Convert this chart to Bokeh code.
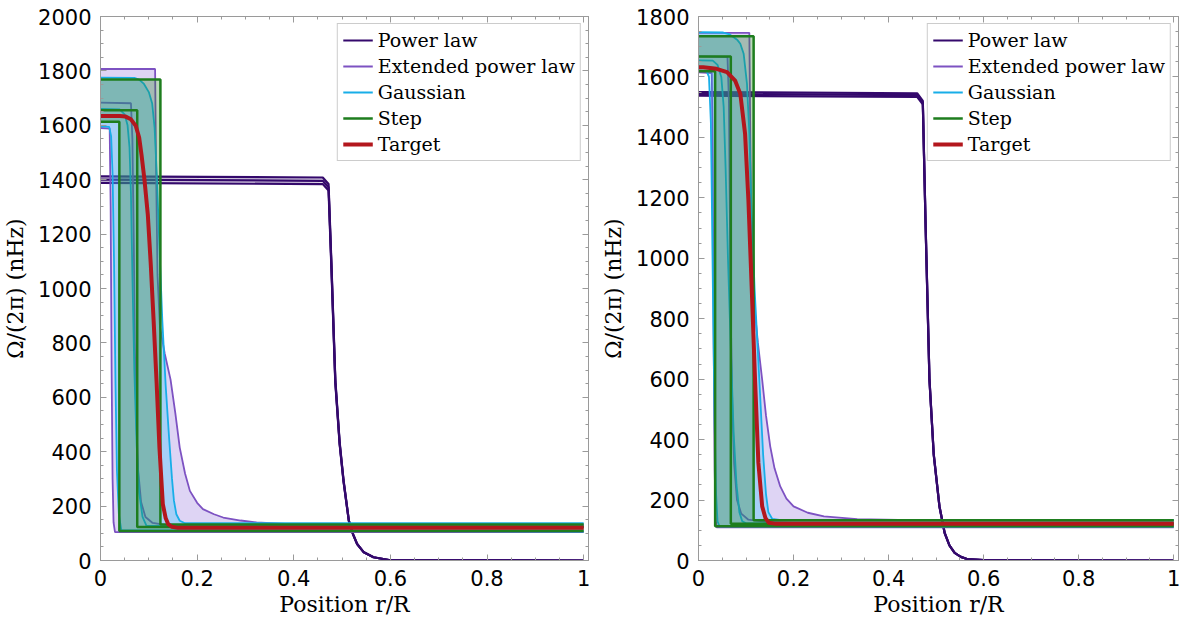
from bokeh.plotting import figure
from bokeh.layouts import row
from bokeh.models import (Range1d, LinearAxis, SingleIntervalTicker, Legend,
                          LegendItem, CustomJSTickFormatter)
from bokeh.embed import file_html
from bokeh.resources import INLINE

# ---------------- left panel ----------------
# power law: three lines on the same radii
pl_r_L = [0, 0.46, 0.472, 0.478, 0.486, 0.495, 0.503, 0.514, 0.523, 0.531, 0.545, 0.565, 0.6, 1.0]
pl_lo_L = [1388, 1384, 1360, 1070, 653, 426, 290, 145, 94, 60, 30, 12, 1, 0]
pl_mid_L = [1400, 1396, 1372, 1080, 659, 430, 293, 146, 95, 61, 30, 12, 1, 0]
pl_hi_L = [1412, 1408, 1384, 1090, 665, 434, 296, 147, 96, 62, 30, 12, 1, 0]

# extended power law
epl_lo_r_L = [0, 0.019, 0.021, 0.023, 0.025, 0.027, 0.03, 1.0]
epl_lo_L = [1590, 1588, 1300, 700, 300, 140, 104, 104]
epl_mid_r_L = [0, 0.063, 0.066, 0.069, 0.071, 0.074, 0.078, 0.084, 0.093, 0.108, 0.14, 0.2, 1.0]
epl_mid_L = [1683, 1681, 1550, 1150, 800, 520, 330, 215, 160, 138, 129, 125, 125]
epl_hi_r_L = [0, 0.113, 0.115, 0.118, 0.123, 0.133, 0.145, 0.155, 0.164, 0.175, 0.185, 0.2,
              0.212, 0.235, 0.254, 0.29, 0.323, 0.392, 0.5, 1.0]
epl_hi_L = [1807, 1807, 1450, 1050, 860, 760, 665, 540, 415, 320, 256, 212,
            189, 170, 158, 147, 140, 134, 132, 132]

# gaussian
gau_lo_r_L = [0, 0.018, 0.022, 0.025, 0.028, 0.031, 0.034, 0.038, 0.043, 1.0]
gau_lo_L = [1596, 1594, 1560, 1420, 1100, 650, 330, 170, 112, 106]
gau_mid_r_L = [0, 0.04, 0.05, 0.056, 0.06, 0.063, 0.066, 0.07, 0.075, 0.08, 0.087, 0.095, 1.0]
gau_mid_L = [1660, 1658, 1640, 1600, 1520, 1350, 1050, 700, 420, 250, 160, 128, 123]
gau_hi_r_L = [0, 0.07, 0.08, 0.09, 0.1, 0.107, 0.112, 0.117, 0.122, 0.128, 0.135, 0.142,
              0.148, 0.152, 0.157, 0.164, 0.175, 1.0]
gau_hi_L = [1775, 1774, 1768, 1752, 1722, 1680, 1590, 1400, 1150, 880, 640, 450,
            300, 220, 170, 146, 137, 137]

# step
stp_lo_r_L = [0, 0.039, 0.039, 1.0]
stp_lo_L = [1613, 1613, 108, 108]
stp_mid_r_L = [0, 0.076, 0.076, 1.0]
stp_mid_L = [1655, 1655, 123, 123]
stp_hi_r_L = [0, 0.124, 0.124, 1.0]
stp_hi_L = [1768, 1768, 132, 132]

# target
tgt_r_L = [0, 0.04, 0.052, 0.063, 0.073, 0.08, 0.085, 0.091, 0.098, 0.104, 0.11, 0.116,
           0.122, 0.129, 0.135, 0.14, 0.148, 0.16, 1.0]
tgt_L = [1634, 1634, 1632, 1622, 1598, 1555, 1490, 1400, 1270, 1090, 880, 659,
         415, 207, 155, 134, 124, 120, 120]

# ---------------- right panel ----------------
pl_r_R = [0, 0.46, 0.472, 0.478, 0.486, 0.495, 0.507, 0.518, 0.528, 0.539, 0.552, 0.565, 0.6, 1.0]
pl_lo_R = [1538, 1534, 1509, 1095, 596, 349, 178, 90, 50, 25, 12, 5, 1, 0]
pl_mid_R = [1544, 1540, 1515, 1100, 598, 350, 179, 91, 50, 25, 12, 5, 1, 0]
pl_hi_R = [1550, 1546, 1521, 1105, 600, 352, 180, 92, 50, 25, 12, 5, 1, 0]

epl_lo_r_R = [0, 0.028, 0.03, 0.032, 0.034, 0.036, 0.038, 1.0]
epl_lo_R = [1615, 1613, 1300, 700, 300, 140, 110, 110]
epl_mid_r_R = [0, 0.061, 0.064, 0.066, 0.068, 0.071, 0.075, 0.081, 0.09, 0.105, 0.14, 0.2, 1.0]
epl_mid_R = [1668, 1666, 1520, 1150, 800, 520, 320, 200, 155, 135, 128, 125, 125]
epl_hi_r_R = [0, 0.107, 0.109, 0.112, 0.117, 0.125, 0.134, 0.142, 0.151, 0.16, 0.172, 0.185,
              0.2, 0.23, 0.264, 0.334, 0.42, 1.0]
epl_hi_R = [1746, 1746, 1400, 1000, 850, 720, 598, 480, 377, 305, 245, 205,
            179, 158, 146, 137, 134, 133]

gau_lo_r_R = [0, 0.017, 0.022, 0.026, 0.028, 0.031, 0.034, 0.037, 0.04, 0.044, 1.0]
gau_lo_R = [1621, 1619, 1600, 1450, 1200, 800, 450, 220, 130, 113, 112]
gau_mid_r_R = [0, 0.03, 0.04, 0.048, 0.053, 0.057, 0.062, 0.068, 0.074, 0.08, 0.086, 0.092, 0.1, 1.0]
gau_mid_R = [1655, 1654, 1640, 1600, 1500, 1300, 1000, 700, 420, 250, 160, 130, 123, 123]
gau_hi_r_R = [0, 0.052, 0.064, 0.074, 0.082, 0.088, 0.095, 0.102, 0.107, 0.111, 0.118, 0.128,
              0.136, 0.142, 0.147, 0.155, 0.17, 1.0]
gau_hi_R = [1748, 1747, 1742, 1731, 1722, 1710, 1677, 1578, 1412, 1192, 900, 598,
            350, 220, 160, 138, 134, 134]

stp_lo_r_R = [0, 0.035, 0.035, 1.0]
stp_lo_R = [1619, 1619, 113, 113]
stp_mid_r_R = [0, 0.068, 0.068, 1.0]
stp_mid_R = [1668, 1668, 122, 122]
stp_hi_r_R = [0, 0.116, 0.116, 1.0]
stp_hi_R = [1735, 1735, 133, 133]

tgt_r_R = [0, 0.01, 0.038, 0.06, 0.077, 0.088, 0.098, 0.105, 0.112, 0.119, 0.126, 0.134,
           0.141, 0.148, 0.16, 1.0]
tgt_R = [1632, 1632, 1627, 1616, 1588, 1544, 1412, 1192, 900, 598, 323, 179,
         140, 125, 122, 122]

labels = ["Power law", "Extended power law", "Gaussian", "Step", "Target"]

PL_C = "#34096c"
EPL_C = "#7d52c2"
GAU_C = "#18aee8"
STP_C = "#1e7d1e"
TGT_C = "#b3171d"
AX_C = "#9a9a9a"
SERIF = "DejaVu Serif"
SANS = "DejaVu Sans"


def band(p, r_lo, lo, r_hi, hi, color, alpha):
    xs = list(r_hi) + list(r_lo)[::-1]
    ys = list(hi) + list(lo)[::-1]
    p.patch(xs, ys, fill_color=color, fill_alpha=alpha, line_color=None)


def make_panel(d, ymax, width, height, bl, br, bt, bb):
    p = figure(width=width, height=height, output_backend="svg", toolbar_location=None,
               x_range=Range1d(0, 1.01), y_range=Range1d(0, ymax),
               min_border_left=bl, min_border_right=br, min_border_top=bt,
               min_border_bottom=bb, x_axis_type=None, y_axis_type=None)
    p.xgrid.visible = False
    p.ygrid.visible = False
    p.outline_line_color = AX_C
    p.background_fill_color = "white"
    p.border_fill_color = "white"

    fmt = CustomJSTickFormatter(code="return Number(tick.toFixed(2)).toString();")
    blank = CustomJSTickFormatter(code="return '';")
    for side in ("below", "left", "above", "right"):
        if side in ("below", "above"):
            tk = SingleIntervalTicker(interval=0.2, num_minor_ticks=4)
        else:
            tk = SingleIntervalTicker(interval=200, num_minor_ticks=4)
        ax = LinearAxis(ticker=tk)
        ax.axis_line_color = AX_C
        ax.major_tick_line_color = AX_C
        ax.minor_tick_line_color = AX_C
        ax.major_tick_in = 6
        ax.major_tick_out = 0
        ax.minor_tick_in = 3
        ax.minor_tick_out = 0
        if side in ("below", "left"):
            ax.formatter = fmt
            ax.major_label_text_font = SANS
            ax.major_label_text_font_size = "21px"
            ax.major_label_text_color = "black"
            ax.major_label_standoff = 9
            ax.axis_label_text_font = SERIF
            ax.axis_label_text_font_style = "normal"
            ax.axis_label_text_font_size = "22px"
            ax.axis_label_text_color = "black"
            if side == "below":
                ax.axis_label = "Position r/R"
                ax.axis_label_standoff = 3
            else:
                ax.axis_label = "\u03a9/(2\u03c0) (nHz)"
                ax.axis_label_standoff = 7
        else:
            ax.formatter = blank
            ax.major_label_standoff = 0
        p.add_layout(ax, side)

    # power law
    band(p, d["pl_r"], d["pl_lo"], d["pl_r"], d["pl_hi"], PL_C, 0.15)
    p.line(d["pl_r"], d["pl_lo"], color=PL_C, line_width=2.2)
    p.line(d["pl_r"], d["pl_hi"], color=PL_C, line_width=2.2)
    r_pl = p.line(d["pl_r"], d["pl_mid"], color=PL_C, line_width=2.2)

    # extended power law
    band(p, d["epl_lo_r"], d["epl_lo"], d["epl_hi_r"], d["epl_hi"], "#9370db", 0.3)
    p.line(d["epl_lo_r"], d["epl_lo"], color=EPL_C, line_width=1.8)
    p.line(d["epl_hi_r"], d["epl_hi"], color=EPL_C, line_width=1.8)
    r_epl = p.line(d["epl_mid_r"], d["epl_mid"], color=EPL_C, line_width=1.8)

    # gaussian
    band(p, d["gau_lo_r"], d["gau_lo"], d["gau_hi_r"], d["gau_hi"], "#00bfff", 0.25)
    p.line(d["gau_lo_r"], d["gau_lo"], color=GAU_C, line_width=1.8)
    p.line(d["gau_hi_r"], d["gau_hi"], color=GAU_C, line_width=1.8)
    r_gau = p.line(d["gau_mid_r"], d["gau_mid"], color=GAU_C, line_width=1.8)

    # step
    band(p, d["stp_lo_r"], d["stp_lo"], d["stp_hi_r"], d["stp_hi"], "#21821e", 0.3)
    p.line(d["stp_lo_r"], d["stp_lo"], color=STP_C, line_width=2.5)
    p.line(d["stp_hi_r"], d["stp_hi"], color=STP_C, line_width=2.5)
    r_stp = p.line(d["stp_mid_r"], d["stp_mid"], color=STP_C, line_width=2.5)

    # target
    r_tgt = p.line(d["tgt_r"], d["tgt"], color=TGT_C, line_width=4, line_join="round")

    items = [LegendItem(label=lab, renderers=[rr])
             for lab, rr in zip(labels, [r_pl, r_epl, r_gau, r_stp, r_tgt])]
    leg = Legend(items=items, location="top_right")
    leg.label_text_font = SERIF
    leg.label_text_font_size = "19px"
    leg.label_text_color = "black"
    leg.border_line_color = AX_C
    leg.border_line_width = 1
    leg.background_fill_alpha = 1
    leg.margin = 7
    leg.padding = 5
    leg.spacing = 4
    leg.glyph_width = 30
    leg.glyph_height = 22
    leg.label_standoff = 5
    leg.label_height = 22
    p.add_layout(leg)
    return p


left = dict(pl_r=pl_r_L, pl_lo=pl_lo_L, pl_mid=pl_mid_L, pl_hi=pl_hi_L,
            epl_lo_r=epl_lo_r_L, epl_lo=epl_lo_L, epl_mid_r=epl_mid_r_L, epl_mid=epl_mid_L,
            epl_hi_r=epl_hi_r_L, epl_hi=epl_hi_L,
            gau_lo_r=gau_lo_r_L, gau_lo=gau_lo_L, gau_mid_r=gau_mid_r_L, gau_mid=gau_mid_L,
            gau_hi_r=gau_hi_r_L, gau_hi=gau_hi_L,
            stp_lo_r=stp_lo_r_L, stp_lo=stp_lo_L, stp_mid_r=stp_mid_r_L, stp_mid=stp_mid_L,
            stp_hi_r=stp_hi_r_L, stp_hi=stp_hi_L, tgt_r=tgt_r_L, tgt=tgt_L)
right = dict(pl_r=pl_r_R, pl_lo=pl_lo_R, pl_mid=pl_mid_R, pl_hi=pl_hi_R,
             epl_lo_r=epl_lo_r_R, epl_lo=epl_lo_R, epl_mid_r=epl_mid_r_R, epl_mid=epl_mid_R,
             epl_hi_r=epl_hi_r_R, epl_hi=epl_hi_R,
             gau_lo_r=gau_lo_r_R, gau_lo=gau_lo_R, gau_mid_r=gau_mid_r_R, gau_mid=gau_mid_R,
             gau_hi_r=gau_hi_r_R, gau_hi=gau_hi_R,
             stp_lo_r=stp_lo_r_R, stp_lo=stp_lo_R, stp_mid_r=stp_mid_r_R, stp_mid=stp_mid_R,
             stp_hi_r=stp_hi_r_R, stp_hi=stp_hi_R, tgt_r=tgt_r_R, tgt=tgt_R)

p1 = make_panel(left, 2000, 598, 620, 100, 10, 14, 60)
p2 = make_panel(right, 1800, 592, 620, 92, 12, 16, 59)

layout = row(p1, p2)
open("out.html", "w").write(file_html(layout, INLINE))
